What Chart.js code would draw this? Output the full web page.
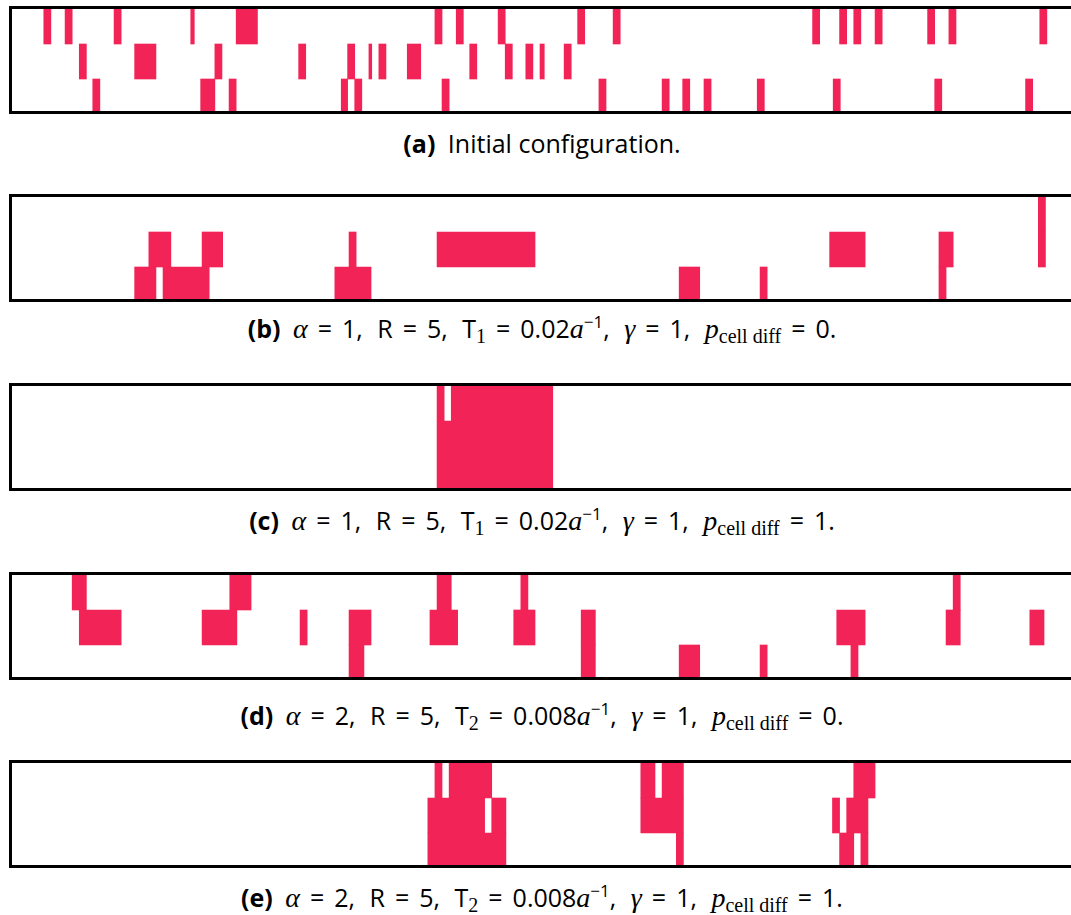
<!DOCTYPE html>
<html>
<head>
<meta charset="utf-8">
<script src="https://cdn.jsdelivr.net/npm/chart.js@4.4.1/dist/chart.umd.min.js"></script>
<style>
  html, body { margin: 0; padding: 0; background: #ffffff; }
  #wrap { position: relative; width: 1071px; height: 915px; overflow: hidden; background: #fff; }
  canvas.panel { position: absolute; left: 0; }
  .cap { position: absolute; left: 0; width: 1084px; text-align: center; font-family: "Open Sans", Lato, sans-serif;
         font-size: 25px; line-height: 30px; color: #000; white-space: nowrap; }
  .cap b { font-weight: 700; margin-right: 6px; }
  .m { font-family: "Liberation Serif", "DejaVu Serif", serif; font-style: italic; font-size: 28px; }
  .eq { margin: 0 10px; }
  .sub { font-family: "Liberation Serif", "DejaVu Serif", serif; font-size: 20px; position: relative; top: 5px; }
  .sup { font-size: 17px; position: relative; top: -10px; }
  .gap { margin-left: 8px; }
</style>
</head>
<body>
<div id="wrap">
  <canvas class="panel" id="pa" width="1071" height="120" style="top:0px"></canvas>
  <div class="cap" style="top:128px"><b>(a)</b> Initial configuration.</div>
  <canvas class="panel" id="pb" width="1071" height="120" style="top:188px"></canvas>
  <div class="cap" style="top:313px"><b>(b)</b> <span class="m">α</span><span class="eq">=</span>1,<span class="gap"></span> R<span class="eq">=</span>5,<span class="gap"></span> T<span class="sub">1</span><span class="eq">=</span>0.02<span class="m">a</span><span class="sup">−1</span>,<span class="gap"></span> <span class="m">γ</span><span class="eq">=</span>1,<span class="gap"></span> <span class="m">p</span><span class="sub">cell diff</span><span class="eq">=</span>0.</div>
  <canvas class="panel" id="pc" width="1071" height="120" style="top:377px"></canvas>
  <div class="cap" style="top:505px"><b>(c)</b> <span class="m">α</span><span class="eq">=</span>1,<span class="gap"></span> R<span class="eq">=</span>5,<span class="gap"></span> T<span class="sub">1</span><span class="eq">=</span>0.02<span class="m">a</span><span class="sup">−1</span>,<span class="gap"></span> <span class="m">γ</span><span class="eq">=</span>1,<span class="gap"></span> <span class="m">p</span><span class="sub">cell diff</span><span class="eq">=</span>1.</div>
  <canvas class="panel" id="pd" width="1071" height="120" style="top:566px"></canvas>
  <div class="cap" style="top:700px"><b>(d)</b> <span class="m">α</span><span class="eq">=</span>2,<span class="gap"></span> R<span class="eq">=</span>5,<span class="gap"></span> T<span class="sub">2</span><span class="eq">=</span>0.008<span class="m">a</span><span class="sup">−1</span>,<span class="gap"></span> <span class="m">γ</span><span class="eq">=</span>1,<span class="gap"></span> <span class="m">p</span><span class="sub">cell diff</span><span class="eq">=</span>0.</div>
  <canvas class="panel" id="pe" width="1071" height="120" style="top:754px"></canvas>
  <div class="cap" style="top:882px"><b>(e)</b> <span class="m">α</span><span class="eq">=</span>2,<span class="gap"></span> R<span class="eq">=</span>5,<span class="gap"></span> T<span class="sub">2</span><span class="eq">=</span>0.008<span class="m">a</span><span class="sup">−1</span>,<span class="gap"></span> <span class="m">γ</span><span class="eq">=</span>1,<span class="gap"></span> <span class="m">p</span><span class="sub">cell diff</span><span class="eq">=</span>1.</div>
</div>
<script>
// Lattice rows (categories) and occupied cell intervals [start, end] in lattice-column units
const ROWS = ['top', 'middle', 'bottom'];
const COLUMNS_VISIBLE = 149.6;

// (a) Initial configuration
const A_TOP = [[4.9,5.9],[7.9,8.9],[14.8,15.8],[25.6,26.1],[32,35],[60,61],[63,64],[68.9,69.9],[80.1,81.1],[85.1,86.1],[113.2,114.2],[117,118],[119,120],[122,123],[129.4,130.4],[132.4,133.4],[145.2,146.2]];
const A_MID = [[9.9,10.9],[17.7,20.7],[29,30],[40.8,41.8],[47.7,48.7],[50.7,51.1],[52.1,53.1],[56.1,58],[64.9,65.9],[69.9,70.9],[72.8,73.8],[74.8,75.4],[78.2,79.2]];
const A_BOT = [[11.8,12.8],[27,29],[31,32],[46.8,47.7],[48.7,49.7],[61,62],[83.1,84.1],[92,93],[94.9,95.9],[97.9,98.9],[105.4,106.4],[116.1,117.1],[130.4,131.4],[143.2,144.2]];

// (b) alpha=1, p_cell diff = 0
const B_TOP = [[145,146]];
const B_MID = [[19.7,22.8],[27.2,30.1],[47.9,48.9],[60.3,74.1],[115.6,120.6],[131,133],[145,146]];
const B_BOT = [[17.7,20.7],[21.7,28.2],[45.9,51],[94.4,97.3],[105.8,106.8],[131,132]];

// (c) alpha=1, p_cell diff = 1
const C_TOP = [[60.3,61.3],[62.3,76.6]];
const C_MID = [[60.3,76.6]];
const C_BOT = [[60.3,76.6]];

// (d) alpha=2, p_cell diff = 0
const D_TOP = [[8.9,10.9],[31.1,34.1],[60.3,62.3],[72.1,73.1],[133,134]];
const D_MID = [[9.9,15.8],[27.2,32.1],[41,42],[47.9,51],[59.3,63.2],[71.1,74.1],[80.6,82.6],[116.6,120.6],[132,134],[143.8,145.8]];
const D_BOT = [[47.9,50],[80.6,82.6],[94.4,97.3],[105.8,106.8],[118.6,119.6]];

// (e) alpha=2, p_cell diff = 1
const E_TOP = [[60,61],[62,68],[89,91],[92,95],[119,122]];
const E_MID = [[59,67],[68,70],[89,95],[116,117],[118,121]];
const E_BOT = [[59,70],[94,95],[117,119],[120,121]];

const RED = '#f22356';

const framePlugin = {
  id: 'frame',
  afterDatasetsDraw(chart) {
    const {ctx, chartArea: a} = chart;
    ctx.save();
    ctx.fillStyle = '#000';
    ctx.fillRect(a.left, a.top - 3, chart.width - a.left, 3);      // top
    ctx.fillRect(a.left, a.bottom - 3, chart.width - a.left, 3);   // bottom
    ctx.fillRect(a.left, a.top - 3, 3, a.bottom - a.top + 3);      // left
    ctx.restore();
  }
};

function points(top, mid, bot) {
  const out = [];
  [top, mid, bot].forEach((row, i) => row.forEach(iv => out.push({x: iv, y: ROWS[i]})));
  return out;
}

function makePanel(id, top, mid, bot) {
  new Chart(document.getElementById(id), {
    type: 'bar',
    data: {
      labels: ROWS,
      datasets: [{
        data: points(top, mid, bot),
        backgroundColor: RED,
        borderWidth: 0,
        categoryPercentage: 1,
        barPercentage: 1
      }]
    },
    options: {
      indexAxis: 'y',
      responsive: false,
      animation: false,
      events: [],
      layout: { padding: { left: 9, top: 9, bottom: 6, right: 0 } },
      plugins: { legend: { display: false }, tooltip: { enabled: false } },
      scales: {
        x: { type: 'linear', min: 0, max: COLUMNS_VISIBLE, display: false },
        y: { type: 'category', display: false, offset: true }
      }
    },
    plugins: [framePlugin]
  });
}

makePanel('pa', A_TOP, A_MID, A_BOT);
makePanel('pb', B_TOP, B_MID, B_BOT);
makePanel('pc', C_TOP, C_MID, C_BOT);
makePanel('pd', D_TOP, D_MID, D_BOT);
makePanel('pe', E_TOP, E_MID, E_BOT);
</script>
</body>
</html>
